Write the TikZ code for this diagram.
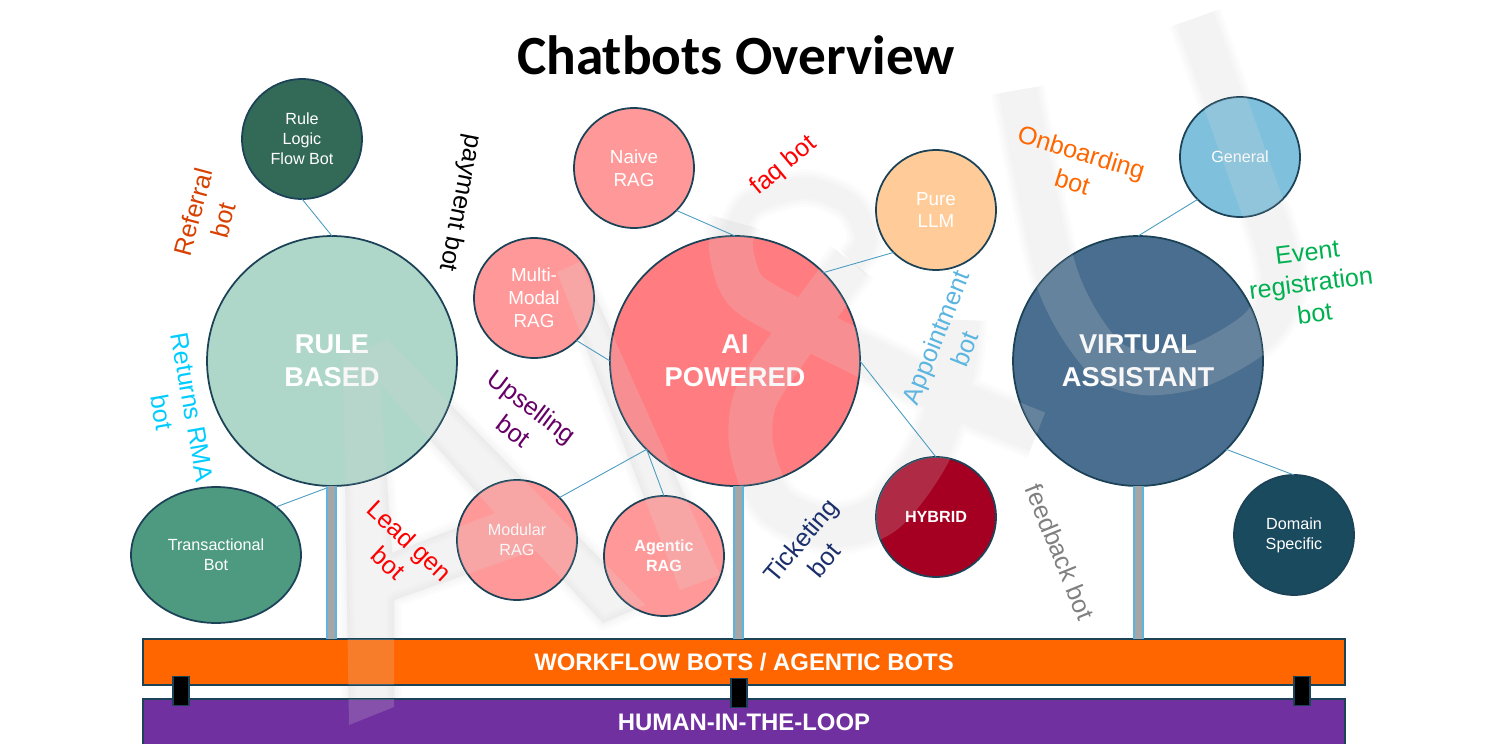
\documentclass[tikz,border=0pt]{standalone}
\usepackage{fontspec}
\setmainfont{Liberation Sans}
\newfontfamily\titlefont{Carlito}
\usetikzlibrary{shapes.geometric}
\definecolor{edgeblue}{HTML}{1B4257}
\definecolor{linkblue}{HTML}{4A9BC0}
\definecolor{stemblue}{HTML}{5BB5E0}
\definecolor{ragpink}{HTML}{FF9999}
\definecolor{ruleteal}{HTML}{AED6C9}
\definecolor{aired}{HTML}{FF7C80}
\definecolor{vablue}{HTML}{4A6E8F}
\definecolor{flowgreen}{HTML}{336957}
\definecolor{transgreen}{HTML}{4E9A81}
\definecolor{purepeach}{HTML}{FFCC99}
\definecolor{hybridred}{HTML}{A50021}
\definecolor{generalblue}{HTML}{7FC0DC}
\definecolor{domainblue}{HTML}{1A4A5E}
\definecolor{wforange}{HTML}{FF6600}
\definecolor{hitlpurple}{HTML}{7030A0}
\definecolor{referralred}{HTML}{D84000}
\definecolor{returnscyan}{HTML}{00CCFF}
\definecolor{upsellpurple}{HTML}{660066}
\definecolor{ticketnavy}{HTML}{1A2F6B}
\definecolor{eventgreen}{HTML}{00B050}
\newcommand{\bigfont}{\fontsize{15.5}{18.7}\selectfont\bfseries}
\newcommand{\midfont}{\fontsize{10.7}{13}\selectfont}
\newcommand{\smallfont}{\fontsize{9.2}{11.3}\selectfont}
\newcommand{\botfont}{\fontsize{14.3}{17.5}\selectfont}
\newcommand{\ampband}{plot[smooth] coordinates {(1037,433) (950,397) (857,352) (790,318) (745,290) (731,250) (735,222)} plot[smooth] coordinates {(852,262) (790,345) (755,400) (752,450) (775,505) (830,528) (884,512) (930,450) (955,370) (960,320)}}
\newcommand{\amploop}{plot[smooth] coordinates {(733,240) (750,205) (805,188) (850,205) (866,240) (852,262)}}
\newcommand{\rightband}{plot[smooth] coordinates {(1195,18) (1244,155) (1275,245) (1280,295) (1257,332) (1200,365) (1143,373) (1100,353) (1055,272) (1018,90)}}
\newcommand{\leftshape}{(343,355) -- (388,340) -- (645,605) -- (603,623) -- (535,550) -- (394,600) -- (394,707) -- (349,725) -- cycle (380,383) -- (495,513) -- (392,553) -- cycle}
\newcommand{\midshape}{(557,272) -- (580,262) -- (720,575) -- (680,590) -- cycle}
\tikzset{
  bubble/.style={circle,draw=edgeblue,line width=1pt,inner sep=0pt,outer sep=0pt,minimum size=2.4cm,align=center,text=white},
  hub/.style={bubble,minimum size=5cm,font=\bigfont},
  ragbubble/.style={bubble,fill=ragpink,font=\midfont},
  bar/.style={rectangle,draw=edgeblue,line width=1pt,inner sep=0pt,outer sep=0pt,minimum width=24.04cm,text=white,font=\fontsize{13.6}{16}\selectfont\bfseries},
  clip block/.style={rectangle,fill=black,draw=edgeblue,line width=1pt,minimum width=.33cm,minimum height=.58cm,inner sep=0pt},
  link/.style={draw=linkblue,line width=.5pt},
  stemline/.style={draw=stemblue,line width=.9pt,double=gray!70,double distance=4.4pt},
  botlabel/.style={align=center,inner sep=0pt,font=\botfont},
  underband/.style={draw=gray!45,opacity=.055,line join=round},
  overband/.style={draw=gray!30,opacity=.2,line join=round,line width=25pt}
}
\begin{document}
\begin{tikzpicture}[x=.02cm,y=-.02cm]
\useasboundingbox (0,0) rectangle (1500,750);
\foreach \w in {31,28,25,22}{
\draw[underband,line width=\w pt] \ampband;
\draw[underband,line width=\w pt-10pt] \amploop;
\draw[underband,line width=\w pt] \rightband;
\draw[underband,line width=\w pt-22pt,fill=gray!45,even odd rule] \leftshape;
\draw[underband,line width=\w pt-22pt,fill=gray!45] \midshape;
}
\node[hub,fill=ruleteal] (rulebased) at (332,361) {RULE\\BASED};
\node[hub,fill=aired] (aipowered) at (735,361) {AI\\POWERED};
\node[hub,fill=vablue] (virtual) at (1138,361) {VIRTUAL\\ASSISTANT};
\node[bubble,fill=flowgreen,font=\smallfont] (ruleflow) at (302,139) {Rule\\Logic\\Flow Bot};
\node[ellipse,draw=edgeblue,line width=1pt,inner sep=0pt,outer sep=0pt,minimum width=3.4cm,minimum height=2.72cm,align=center,text=white,fill=transgreen,font=\smallfont] (transbot) at (216,555) {Transactional\\Bot};
\node[ragbubble] (naiverag) at (634,168) {Naive\\RAG};
\node[ragbubble] (multirag) at (534,298) {Multi-\\Modal\\RAG};
\node[ragbubble,font=\smallfont] (modularrag) at (517,540) {Modular\\RAG};
\node[ragbubble,font=\smallfont\bfseries] (agenticrag) at (664,556) {Agentic\\RAG};
\node[bubble,fill=purepeach,font=\midfont] (purellm) at (936,210) {Pure\\LLM};
\node[bubble,fill=hybridred,font=\smallfont\bfseries] (hybrid) at (936,517) {HYBRID};
\node[bubble,fill=generalblue,font=\smallfont] (general) at (1240,157) {General};
\node[bubble,fill=domainblue,font=\smallfont] (domain) at (1294,535) {Domain\\Specific};
\node[bar,fill=wforange,minimum height=.92cm] (workflow) at (744,662) {WORKFLOW BOTS / AGENTIC BOTS};
\node[bar,fill=hitlpurple,minimum height=.92cm] (hitl) at (744,722) {HUMAN-IN-THE-LOOP};
\fill[white] (0,743.5) rectangle (1500,750);
\node[clip block] (clipleft) at (181,691) {};
\node[clip block] (clipmid) at (739,693) {};
\node[clip block] (clipright) at (1302,691) {};
\draw[link] (ruleflow.south) -- (rulebased.north);
\draw[link] (transbot.north east) -- (rulebased.south);
\draw[link] (naiverag.south east) -- (aipowered.north);
\draw[link] (multirag.south east) -- (aipowered.west);
\draw[link] (modularrag.north east) -- (aipowered.south west);
\draw[link] (agenticrag.north) -- (aipowered.south west);
\draw[link] (purellm.south west) -- (aipowered.north east);
\draw[link] (aipowered.east) -- (hybrid.north);
\draw[link] (general.south west) -- (virtual.north);
\draw[link] (domain.north) -- (virtual.south east);
\coordinate (rulestem) at (331.5,486);
\coordinate (aistem) at (738.5,486);
\coordinate (vastem) at (1138.5,486);
\draw[stemline] (rulestem) -- (rulestem |- workflow.north);
\draw[stemline] (aistem) -- (aistem |- workflow.north);
\draw[stemline] (vastem) -- (vastem |- workflow.north);
\begin{scope}
\clip (332,361) circle[radius=125] (735,361) circle[radius=125] (1138,361) circle[radius=125]
  (534,298) circle[radius=60] (517,540) circle[radius=60] (664,556) circle[radius=60]
  (936,517) circle[radius=60] (1240,157) circle[radius=60]
  (143,639) rectangle (1345,685) (143,699) rectangle (1345,743.5);
\fill[gray!30,opacity=.2,even odd rule] \leftshape;
\fill[gray!30,opacity=.2] \midshape;
\draw[overband] \ampband;
\draw[overband] \rightband;
\end{scope}
\node[inner sep=0pt,font=\titlefont\bfseries\fontsize{31.5}{36}\selectfont] (title) at (736,55) {Chatbots Overview};
\node[botlabel,rotate=75,text=referralred] (referral) at (208,216) {Referral\\bot};
\node[botlabel,rotate=-101] (payment) at (460,203) {payment bot};
\node[botlabel,rotate=-80,text=returnscyan] (returns) at (177,410) {Returns RMA\\bot};
\node[botlabel,rotate=-37,text=upsellpurple] (upselling) at (523,419) {Upselling\\bot};
\node[botlabel,rotate=-43,text=red] (leadgen) at (399,552) {Lead gen\\bot};
\node[botlabel,rotate=40,text=red] (faq) at (784,166) {faq bot};
\node[botlabel,rotate=68,text=stemblue] (appointment) at (950,343) {Appointment\\bot};
\node[botlabel,rotate=50,text=ticketnavy] (ticketing) at (812,550) {Ticketing\\bot};
\node[botlabel,rotate=-68,text=gray] (feedback) at (1060,552) {feedback bot};
\node[botlabel,rotate=-17,text=wforange] (onboarding) at (1077,167) {Onboarding\\bot};
\node[botlabel,rotate=7,text=eventgreen] (event) at (1311,283) {Event\\registration\\bot};
\end{tikzpicture}
\end{document}
